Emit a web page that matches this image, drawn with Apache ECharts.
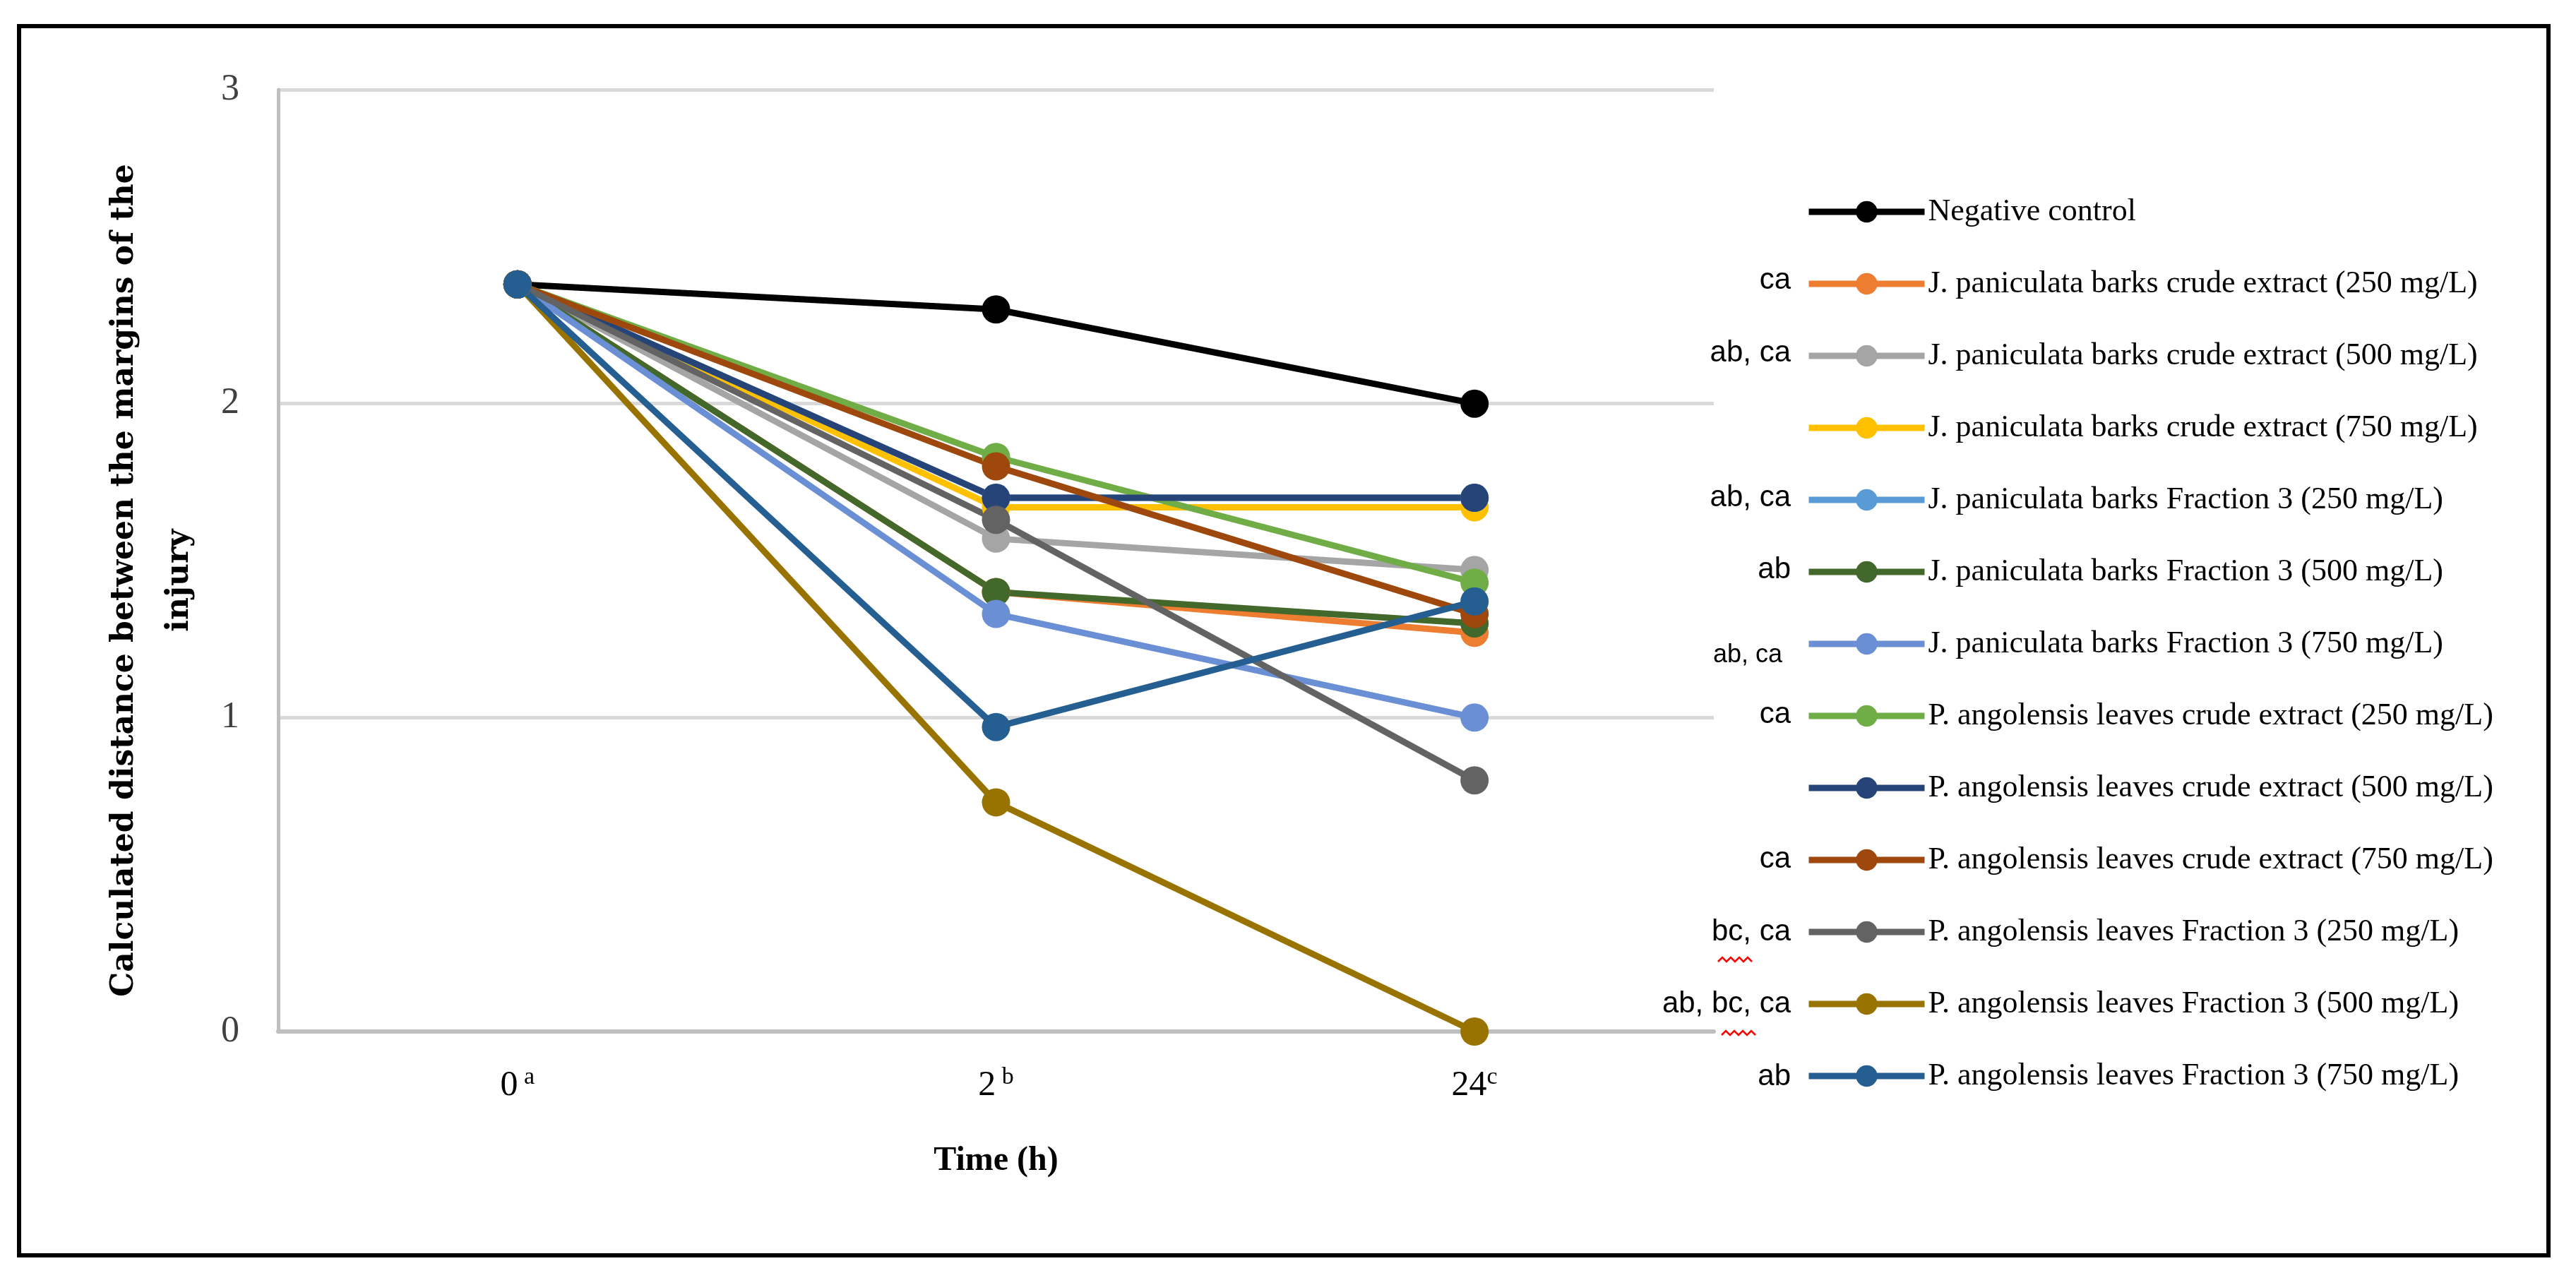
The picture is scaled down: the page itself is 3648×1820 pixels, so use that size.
<!DOCTYPE html>
<html>
<head>
<meta charset="utf-8">
<script src="https://cdn.jsdelivr.net/npm/echarts@6/dist/echarts.min.js"></script>
<style>
  html, body { margin: 0; padding: 0; background: #fff; }
  #chart { width: 3648px; height: 1820px; }
</style>
</head>
<body>
<div id="chart"></div>
<script>
// time points and their significance superscripts
var timePoints = ['0', '2', '24'];
var timeSup = [' a', ' b', 'c'];

var seriesNames = [
    'Negative control',
    'J. paniculata barks crude extract (250 mg/L)',
    'J. paniculata barks crude extract (500 mg/L)',
    'J. paniculata barks crude extract (750 mg/L)',
    'J. paniculata barks Fraction 3 (250 mg/L)',
    'J. paniculata barks Fraction 3 (500 mg/L)',
    'J. paniculata barks Fraction 3 (750 mg/L)',
    'P. angolensis leaves crude extract (250 mg/L)',
    'P. angolensis leaves crude extract (500 mg/L)',
    'P. angolensis leaves crude extract (750 mg/L)',
    'P. angolensis leaves Fraction 3 (250 mg/L)',
    'P. angolensis leaves Fraction 3 (500 mg/L)',
    'P. angolensis leaves Fraction 3 (750 mg/L)'
];

// letters written left of each legend entry
var legendNotes = ['', 'ca', 'ab, ca', '', 'ab, ca', 'ab', 'ab, ca', 'ca', '', 'ca', 'bc, ca', 'ab, bc, ca', 'ab'];

var negControl  = [2.38, 2.30, 2.00];
var jCrude250   = [2.38, 1.40, 1.27];
var jCrude500   = [2.38, 1.57, 1.47];
var jCrude750   = [2.38, 1.67, 1.67];
var jFr250      = [2.38, 1.70, 1.70];
var jFr500      = [2.38, 1.40, 1.30];
var jFr750      = [2.38, 1.33, 1.00];
var pCrude250   = [2.38, 1.83, 1.43];
var pCrude500   = [2.38, 1.70, 1.70];
var pCrude750   = [2.38, 1.80, 1.33];
var pFr250      = [2.38, 1.63, 0.80];
var pFr500      = [2.38, 0.73, 0.00];
var pFr750      = [2.38, 0.97, 1.37];

var seriesValues = [negControl, jCrude250, jCrude500, jCrude750, jFr250, jFr500, jFr750,
    pCrude250, pCrude500, pCrude750, pFr250, pFr500, pFr750];

var colors = ['#000000', '#ED7D31', '#A5A5A5', '#FFC000', '#5B9BD5', '#43682B', '#6A8FD4',
    '#70AD47', '#264478', '#9E480E', '#636363', '#997300', '#255E91'];

var myChart = echarts.init(document.getElementById('chart'));

//图例布局 (行高由文字决定, 约44px)
var legendTop = 273;
var legendItemH = 38;
var legendGap = 58;
var legendRow = 102.5;
var legendFirstCenter = legendTop + 22;

var series = [];
for (var i = 0; i < seriesNames.length; i++) {
    series.push({
        name: seriesNames[i],
        type: 'line',
        data: seriesValues[i],
        symbol: 'circle',
        symbolSize: 40,
        color: colors[i],
        lineStyle: { width: 9, color: colors[i] },
        itemStyle: { color: colors[i] },
        emphasis: { disabled: true },
        animation: false
    });
}

var graphics = [{
    type: 'rect',
    shape: { x: 27, y: 37, width: 3582, height: 1741 },
    style: { fill: 'none', stroke: '#000', lineWidth: 6 },
    silent: true
}];

for (var j = 0; j < legendNotes.length; j++) {
    if (!legendNotes[j]) continue;
    var small = (j === 6);
    graphics.push({
        type: 'text',
        x: small ? 2524 : 2536,
        y: legendFirstCenter + j * legendRow + (small ? 18 : 0),
        style: {
            text: legendNotes[j],
            fill: '#000',
            align: 'right',
            verticalAlign: 'middle',
            font: (small ? 36 : 42) + 'px "Liberation Sans"'
        },
        silent: true
    });
}

//拼写检查的波浪线
function squiggle(x, y) {
    var pts = [];
    for (var k = 0; k <= 8; k++) {
        pts.push([x + k * 6, y + (k % 2 === 0 ? 0 : -6)]);
    }
    return {
        type: 'polyline',
        shape: { points: pts },
        style: { stroke: '#FF0000', lineWidth: 2.5, fill: 'none' },
        silent: true
    };
}
graphics.push(squiggle(2433, 1362));
graphics.push(squiggle(2438, 1466));

var option = {
    backgroundColor: '#fff',
    animation: false,
    grid: { left: 394, right: 1221, top: 127, bottom: 359, containLabel: false },
    legend: {
        orient: 'vertical',
        left: 2552,
        top: legendTop,
        itemWidth: 164,
        itemHeight: legendItemH,
        itemGap: legendGap,
        selectedMode: false,
        lineStyle: { width: 9 },
        textStyle: { fontFamily: 'Liberation Serif', fontSize: 44, color: '#000' },
        data: seriesNames
    },
    xAxis: {
        type: 'category',
        data: timePoints,
        boundaryGap: true,
        name: 'Time (h)',
        nameLocation: 'middle',
        nameGap: 160,
        nameTextStyle: { fontFamily: 'Liberation Serif', fontWeight: 'bold', fontSize: 48, color: '#000' },
        axisLine: { show: true, lineStyle: { color: '#BFBFBF', width: 6 } },
        axisTick: { show: false },
        axisLabel: {
            margin: 48,
            formatter: function (v, idx) {
                return '{n|' + v + '}{s|' + timeSup[idx] + '}';
            },
            rich: {
                n: { fontFamily: 'Liberation Serif', fontSize: 50, color: '#000' },
                s: { fontFamily: 'Liberation Serif', fontSize: 34, color: '#000', padding: [0, 0, 24, 0] }
            }
        },
        splitLine: { show: false }
    },
    yAxis: {
        type: 'value',
        min: 0,
        max: 3,
        interval: 1,
        name: 'Calculated distance between the margins of the\ninjury',
        nameLocation: 'middle',
        nameGap: 100,
        nameRotate: 90,
        nameTextStyle: {
            fontFamily: 'DejaVu Serif', fontWeight: 'bold', fontSize: 44, color: '#000',
            lineHeight: 78, padding: [0, 56, 0, 0]
        },
        axisLine: { show: true, lineStyle: { color: '#BFBFBF', width: 5 } },
        axisTick: { show: false },
        axisLabel: { margin: 55, fontFamily: 'Liberation Serif', fontSize: 52, color: '#404040' },
        splitLine: { show: true, lineStyle: { color: '#D9D9D9', width: 5 } }
    },
    graphic: graphics,
    series: series
};

myChart.setOption(option);
</script>
</body>
</html>
